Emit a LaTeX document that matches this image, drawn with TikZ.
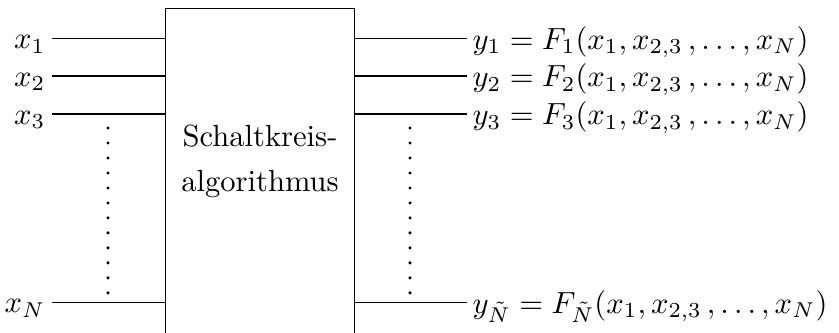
\documentclass[tikz,border=0pt]{standalone}
\usepackage{amsmath}
\begin{document}
\begin{tikzpicture}[x=0.327pt,y=-0.327pt,
  wire/.style={line width=0.45pt},
  dotcol/.style={line width=1.1pt,dash pattern=on 0pt off 4.9pt,line cap=round},
  lbl/.style={inner sep=0pt},
  mlbl/.style={inner sep=0pt,font=\fontsize{10.3}{12}\selectfont}]
\useasboundingbox (0,0) rectangle (839,332);
\clip (0,0) rectangle (839,332);
\node[draw,line width=0.45pt,minimum width=189*0.327pt,minimum height=340*0.327pt,anchor=north west,inner sep=0pt] (box) at (165,8) {};
\node[lbl] (t1) at (260,136) {Schaltkreis-};
\node[lbl] (t2) at (260,184) {algorithmus};
% inputs
\foreach \i/\yy/\txt in {1/38.5/x_1,2/76/x_2,3/114/x_3,N/302.5/x_N}{
  \coordinate (a\i) at (52,\yy);
  \node[mlbl,anchor=base east] (x\i) at (46,\yy+10) {$\txt$};
  \draw[wire] (a\i) -- (a\i -| box.west);
  \coordinate (b\i) at (467,\yy);
  \draw[wire] (b\i -| box.east) -- (b\i);
}
\node[mlbl,anchor=base west] (y1) at (472,38.5+10.5) {$y_1=F_1(x_1,x_{2,3}\,,\dots,x_N)$};
\node[mlbl,anchor=base west] (y2) at (472,76+10.5) {$y_2=F_2(x_1,x_{2,3}\,,\dots,x_N)$};
\node[mlbl,anchor=base west] (y3) at (472,114+10.5) {$y_3=F_3(x_1,x_{2,3}\,,\dots,x_N)$};
\node[mlbl,anchor=base west] (yN) at (472,302.5+10.5) {$y_{\tilde N}=F_{\tilde N}(x_1,x_{2,3}\,,\dots,x_N)$};
% dots
\coordinate (d1) at (108,128);
\coordinate (d2) at (108,294);
\draw[dotcol] (d1) -- (d2);
\coordinate (e1) at (410,128);
\coordinate (e2) at (410,294);
\draw[dotcol] (e1) -- (e2);
\end{tikzpicture}
\end{document}
